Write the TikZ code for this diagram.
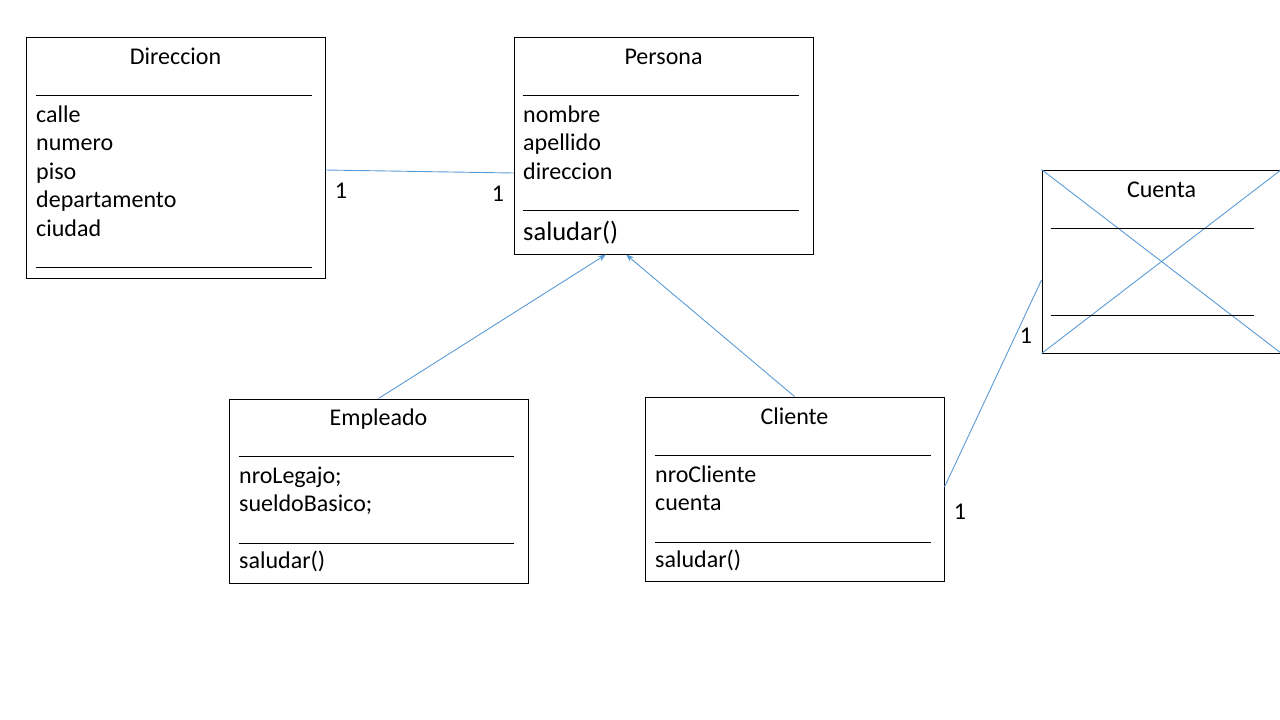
\documentclass[tikz,border=0pt]{standalone}
\usepackage{fontspec}
\setmainfont{Carlito}
\usetikzlibrary{arrows.meta,positioning}
\definecolor{linkblue}{HTML}{5B9BD5}

\begin{document}
\begin{tikzpicture}[%
    x=1pt, y=-1pt,
    >={Stealth[length=8pt,width=6pt]},
    classbox/.style={draw, line width=1pt, inner sep=0pt, minimum width=299pt},
    sepline/.style={line width=1pt},
    txt/.style={font=\fontsize{24}{29}\selectfont, inner sep=0pt},
    bigtxt/.style={font=\fontsize{26.5}{32}\selectfont, inner sep=0pt},
    assoc/.style={draw=linkblue, line width=0.9pt}
  ]
    \useasboundingbox (0,0) rectangle (1280,720);
    \clip (0,0) rectangle (1280,720);

    % class boxes
    \node[classbox, minimum height=241pt] (dir) at (175.5,157.5) {};
    \node[classbox, minimum height=217pt] (per) at (663.5,145.5) {};
    \node[classbox, minimum height=183pt, minimum width=239pt] (cue) at (1161.5,261.5) {};
    \node[classbox, minimum height=184pt] (emp) at (378.5,491) {};
    \node[classbox, minimum height=184pt] (cli) at (794.5,489) {};

    % Direccion
    \node[txt, anchor=base] (dir-title) at (dir.north |- 0,64) {Direccion};
    \draw[sepline] ([shift={(10,59)}]dir.north west) -- ([shift={(286,59)}]dir.north west);
    \foreach \attr [count=\i] in {calle,numero,piso,departamento,ciudad}
      \node[txt, anchor=base west] (dir-\i) at (36,{93.4+28.6*\i}) {\attr};
    \draw[sepline] ([shift={(10,231)}]dir.north west) -- ([shift={(286,231)}]dir.north west);

    % Persona
    \node[txt, anchor=base] (per-title) at (per.north |- 0,64) {Persona};
    \draw[sepline] ([shift={(9,59)}]per.north west) -- ([shift={(285,59)}]per.north west);
    \foreach \attr [count=\i] in {nombre,apellido,direccion}
      \node[txt, anchor=base west] (per-\i) at (523,{93.4+28.6*\i}) {\attr};
    \draw[sepline] ([shift={(9,174)}]per.north west) -- ([shift={(285,174)}]per.north west);
    \node[bigtxt, anchor=base west] (per-op) at (523,240) {saludar()};

    % Cuenta
    \draw[assoc] (cue.north west) -- (cue.south east);
    \draw[assoc] (cue.south west) -- (cue.north east);
    \node[txt, anchor=base] (cue-title) at (cue.north |- 0,197) {Cuenta};
    \draw[sepline] ([shift={(9,59)}]cue.north west) -- ([shift={(212,59)}]cue.north west);
    \draw[sepline] ([shift={(9,146)}]cue.north west) -- ([shift={(212,146)}]cue.north west);

    % Empleado
    \node[txt, anchor=base] (emp-title) at (emp.north |- 0,425) {Empleado};
    \draw[sepline] ([shift={(10,58)}]emp.north west) -- ([shift={(285,58)}]emp.north west);
    \foreach \attr [count=\i] in {nroLegajo;,sueldoBasico;}
      \node[txt, anchor=base west] (emp-\i) at (239,{454.4+28.6*\i}) {\attr};
    \draw[sepline] ([shift={(10,145)}]emp.north west) -- ([shift={(285,145)}]emp.north west);
    \node[txt, anchor=base west] (emp-op) at (239,568) {saludar()};

    % Cliente
    \node[txt, anchor=base] (cli-title) at (cli.north |- 0,424) {Cliente};
    \draw[sepline] ([shift={(10,59)}]cli.north west) -- ([shift={(286,59)}]cli.north west);
    \foreach \attr [count=\i] in {nroCliente,cuenta}
      \node[txt, anchor=base west] (cli-\i) at (655,{453.4+28.6*\i}) {\attr};
    \draw[sepline] ([shift={(10,146)}]cli.north west) -- ([shift={(286,146)}]cli.north west);
    \node[txt, anchor=base west] (cli-op) at (655,567) {saludar()};

    % relations
    \draw[assoc] (dir.east |- 0,170) -- (per.west |- 0,173);
    \node[txt, anchor=base] (m1) at (341,198) {1};
    \node[txt, anchor=base] (m2) at (498,201) {1};
    \draw[assoc,->] (emp.north) -- (per.south -| 606,0);
    \draw[assoc,->] (cli.north) -- (per.south -| 626,0);
    \draw[assoc] (cli.east |- 0,487) -- (cue.west |- 0,280);
    \node[txt, anchor=base] (m3) at (1026,343) {1};
    \node[txt, anchor=base] (m4) at (960,519) {1};
\end{tikzpicture}
\end{document}
